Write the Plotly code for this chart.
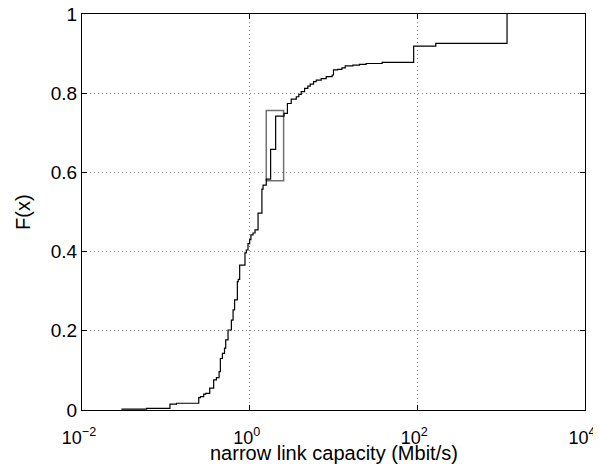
import plotly.graph_objects as go

# Step CDF of narrow link capacity: F jumps to cdf[i] at capacity cap_mbps[i]
cap_mbps = [0.0295, 0.059, 0.112, 0.134, 0.247, 0.259, 0.283, 0.299, 0.334, 0.372,
            0.401, 0.432, 0.447, 0.473, 0.501, 0.518, 0.552, 0.605, 0.634, 0.661,
            0.713, 0.731, 0.760, 0.879, 0.912, 0.955, 1.0, 1.035, 1.096, 1.159,
            1.259, 1.40, 1.445, 1.578, 1.778, 2.042, 2.57, 2.82, 3.13, 3.60,
            3.86, 4.12, 4.52, 4.94, 5.27, 5.78, 6.22, 7.13, 8.18, 9.64,
            10.0, 11.2, 12.6, 13.8, 17.0, 20.4, 24.5, 38.0, 90.4, 166.0,
            1175.0]
cdf = [0.002, 0.004, 0.015, 0.017, 0.031, 0.034, 0.040, 0.042, 0.055, 0.076,
       0.082, 0.097, 0.130, 0.143, 0.156, 0.177, 0.202, 0.227, 0.253, 0.278,
       0.324, 0.330, 0.366, 0.397, 0.404, 0.420, 0.430, 0.442, 0.447, 0.455,
       0.497, 0.558, 0.568, 0.583, 0.658, 0.742, 0.749, 0.774, 0.785, 0.791,
       0.797, 0.804, 0.812, 0.818, 0.823, 0.829, 0.833, 0.837, 0.842, 0.846,
       0.859, 0.860, 0.864, 0.869, 0.871, 0.873, 0.875, 0.878, 0.919, 0.926,
       1.000]

# Highlight box around the mode
box_x = [1.578, 2.54, 2.54, 1.578, 1.578]
box_y = [0.579, 0.579, 0.756, 0.756, 0.579]

x_ticks = [0.01, 1, 100, 10000]
x_tick_text = ["10<sup>−2</sup>", "10<sup>0</sup>", "10<sup>2</sup>", "10<sup>4</sup>"]
y_ticks = [0, 0.2, 0.4, 0.6, 0.8, 1]

x_title = "narrow link capacity (Mbit/s)"
y_title = "F(x)"

FONT = "Liberation Sans, Arial, Helvetica, sans-serif"

fig = go.Figure()
fig.add_trace(go.Scatter(x=box_x, y=box_y, mode="lines",
                         line=dict(color="#707070", width=1.5),
                         showlegend=False, hoverinfo="skip"))
fig.add_trace(go.Scatter(x=cap_mbps, y=cdf, mode="lines", line_shape="hv",
                         line=dict(color="black", width=1.2),
                         showlegend=False))

axis_common = dict(
    showline=True, linecolor="black", linewidth=1, mirror="ticks",
    ticks="inside", ticklen=5, tickcolor="black", tickwidth=1,
    showgrid=True, gridcolor="#8a8a8a", gridwidth=1, griddash="1px,3px",
    zeroline=False, automargin=False, ticklabeloverflow="allow",
)

# page body adds an 8px offset, so the figure is 8px smaller than the window
fig.update_layout(
    width=593, height=456,
    margin=dict(l=74, r=16, t=6, b=54),
    paper_bgcolor="white", plot_bgcolor="white",
    font=dict(family=FONT, color="black", size=19),
    xaxis=dict(type="log", range=[-2, 4], tickvals=x_ticks, ticktext=x_tick_text,
               tickfont=dict(size=18), ticklabelstandoff=11, ticklabelshift=-3,
               **axis_common),
    yaxis=dict(range=[0, 1], tickvals=y_ticks, tickfont=dict(size=19),
               **axis_common),
    annotations=[
        dict(text=x_title, xref="paper", yref="paper", x=0.5, y=0,
             xanchor="center", yanchor="top", yshift=-30, showarrow=False,
             font=dict(size=20, family=FONT, color="black")),
        dict(text=y_title, xref="paper", yref="paper", x=0, y=0.5,
             xanchor="center", yanchor="middle", xshift=-59, textangle=-90,
             showarrow=False, font=dict(size=20, family=FONT, color="black")),
    ],
)

fig.write_html("out.html")
